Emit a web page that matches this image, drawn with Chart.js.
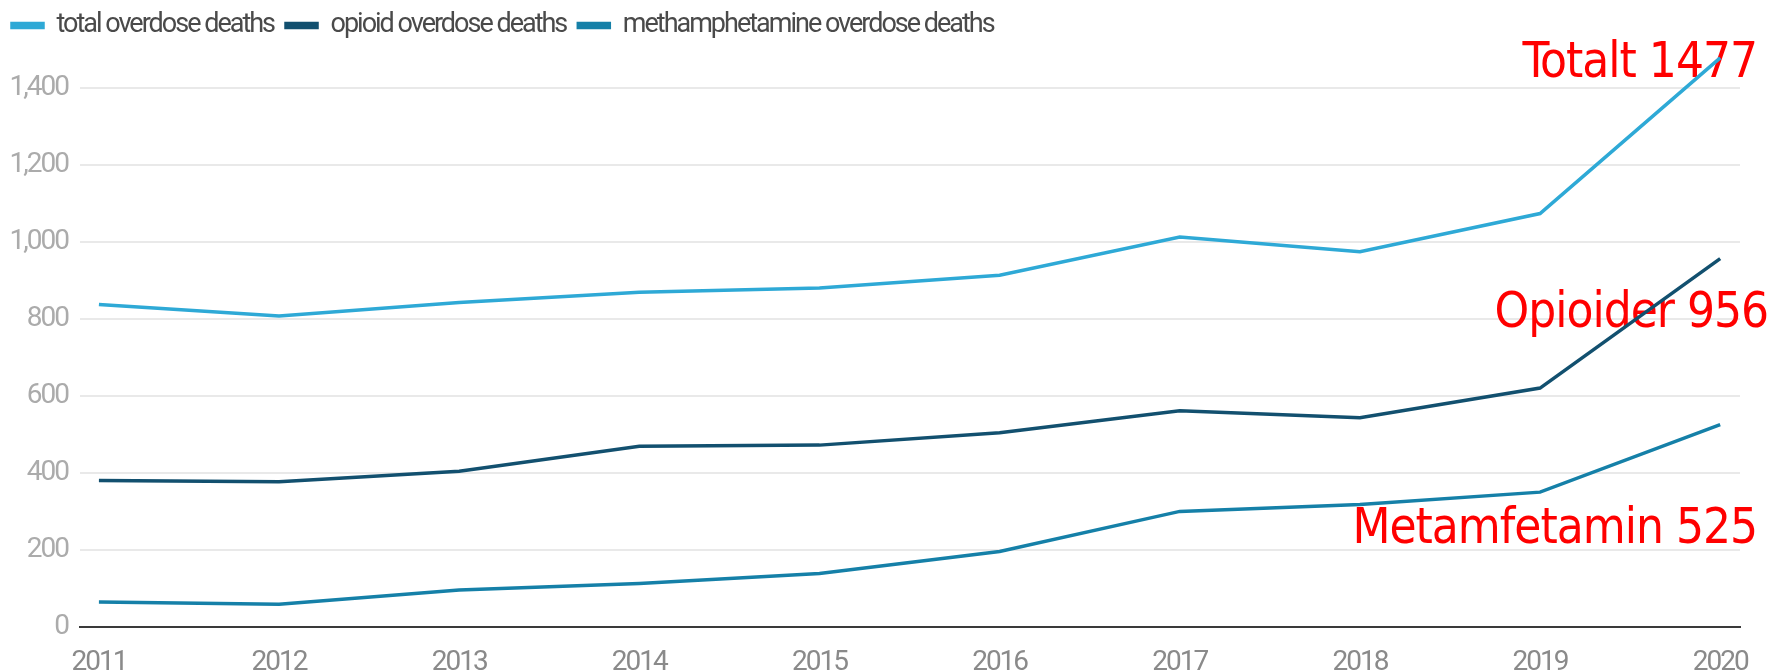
<html lang="en">
  <head>
    <meta charset="utf-8" />
    <title>Overdose deaths</title>
    <script src="https://cdn.jsdelivr.net/npm/chart.js@4.4.1/dist/chart.umd.min.js"></script>
    <style>
      * { margin: 0; padding: 0; box-sizing: border-box; }
      body { background: #ffffff; }
      .wrapper { width: 1787px; height: 672px; position: relative; }
    </style>
  </head>
  <body>
    <div class="wrapper">
      <canvas id="chart"></canvas>
    </div>
  <script>
    const years = [2011, 2012, 2013, 2014, 2015, 2016, 2017, 2018, 2019, 2020];
    const totalDeaths = [837, 807, 842, 869, 880, 913, 1012, 974, 1073, 1477];
    const opioidDeaths = [380, 377, 404, 469, 472, 504, 561, 543, 620, 956];
    const methDeaths = [65, 59, 96, 113, 139, 196, 300, 318, 350, 525];
    const yTicks = [0, 200, 400, 600, 800, 1000, 1200, 1400];
    const seriesNames = ["total overdose deaths", "opioid overdose deaths", "methamphetamine overdose deaths"];
    const endNotes = ["Totalt 1477", "Opioider 956", "Metamfetamin 525"];

    // colours + where each red note sits relative to the last point
    const colors = ["#2ea9d6", "#12506f", "#1580a8"];
    const noteOffsets = [{ dx: 17, dy: 19 }, { dx: 28, dy: 68 }, { dx: 17, dy: 118 }];

    const toPoints = (vals) => vals.map((v, i) => ({ x: years[i], y: v }));
    const allSeries = [totalDeaths, opioidDeaths, methDeaths];

    // the original uses a condensed face, squeeze Roboto a bit instead
    const tightText = {
      id: "tightText",
      beforeUpdate(chart) { chart.ctx.letterSpacing = "-2px"; },
      beforeDraw(chart) { chart.ctx.letterSpacing = "-2px"; },
    };

    // red labels at the right end, drawn under the lines
    const endNotesPlugin = {
      id: "endNotes",
      beforeDatasetsDraw(chart) {
        const ctx = chart.ctx;
        ctx.save();
        ctx.letterSpacing = "-1px";
        ctx.fillStyle = "#ff0000";
        ctx.font = "49px 'DejaVu Sans Condensed', 'DejaVu Sans', sans-serif";
        ctx.textAlign = "right";
        ctx.textBaseline = "alphabetic";
        endNotes.forEach((txt, i) => {
          const pts = chart.getDatasetMeta(i).data;
          const last = pts[pts.length - 1];
          ctx.fillText(txt, chart.chartArea.right + noteOffsets[i].dx, last.y + noteOffsets[i].dy);
        });
        ctx.restore();
      },
    };

    const uiFont = "Roboto, 'Noto Sans', sans-serif";

    new Chart(document.getElementById("chart"), {
      type: "line",
      plugins: [tightText, endNotesPlugin],
      data: {
        datasets: allSeries.map((vals, i) => ({
          label: seriesNames[i],
          data: toPoints(vals),
          borderColor: colors[i],
          backgroundColor: colors[i],
          borderWidth: 3.5,
          pointRadius: 0,
          tension: 0,
        })),
      },
      options: {
        responsive: true,
        maintainAspectRatio: false,
        animation: false,
        layout: { padding: { left: 0, right: 47, top: 0, bottom: 0 } },
        plugins: {
          tooltip: { enabled: false },
          legend: {
            position: "top",
            align: "start",
            labels: {
              boxWidth: 31,
              boxHeight: 4,
              padding: 12,
              color: "#4a4a4a",
              font: { family: uiFont, size: 27 },
            },
          },
        },
        scales: {
          x: {
            type: "linear",
            min: 2011 - 0.105,
            max: 2020 + 0.11,
            afterBuildTicks: (axis) => { axis.ticks = years.map((v) => ({ value: v })); },
            afterFit: (axis) => { axis.height = 45; },
            grid: { display: false },
            border: { display: true, color: "#3a3a3a", width: 2 },
            ticks: {
              padding: 11,
              maxRotation: 0,
              color: "#8a8a8a",
              font: { family: uiFont, size: 28 },
              callback: (v) => String(v),
            },
          },
          y: {
            min: 0,
            max: 1500,
            afterBuildTicks: (axis) => { axis.ticks = yTicks.map((v) => ({ value: v })); },
            afterFit: (axis) => { axis.width = 80; },
            border: { display: false },
            grid: {
              drawTicks: false,
              lineWidth: 2,
              color: (c) => (c.tick && c.tick.value === 0 ? "rgba(0,0,0,0)" : "#e9e9e9"),
            },
            ticks: {
              padding: 12,
              color: "#ababab",
              font: { family: uiFont, size: 28 },
              callback: (v) => v.toLocaleString("en-US"),
            },
          },
        },
      },
    });
  </script>
  </body>
</html>
